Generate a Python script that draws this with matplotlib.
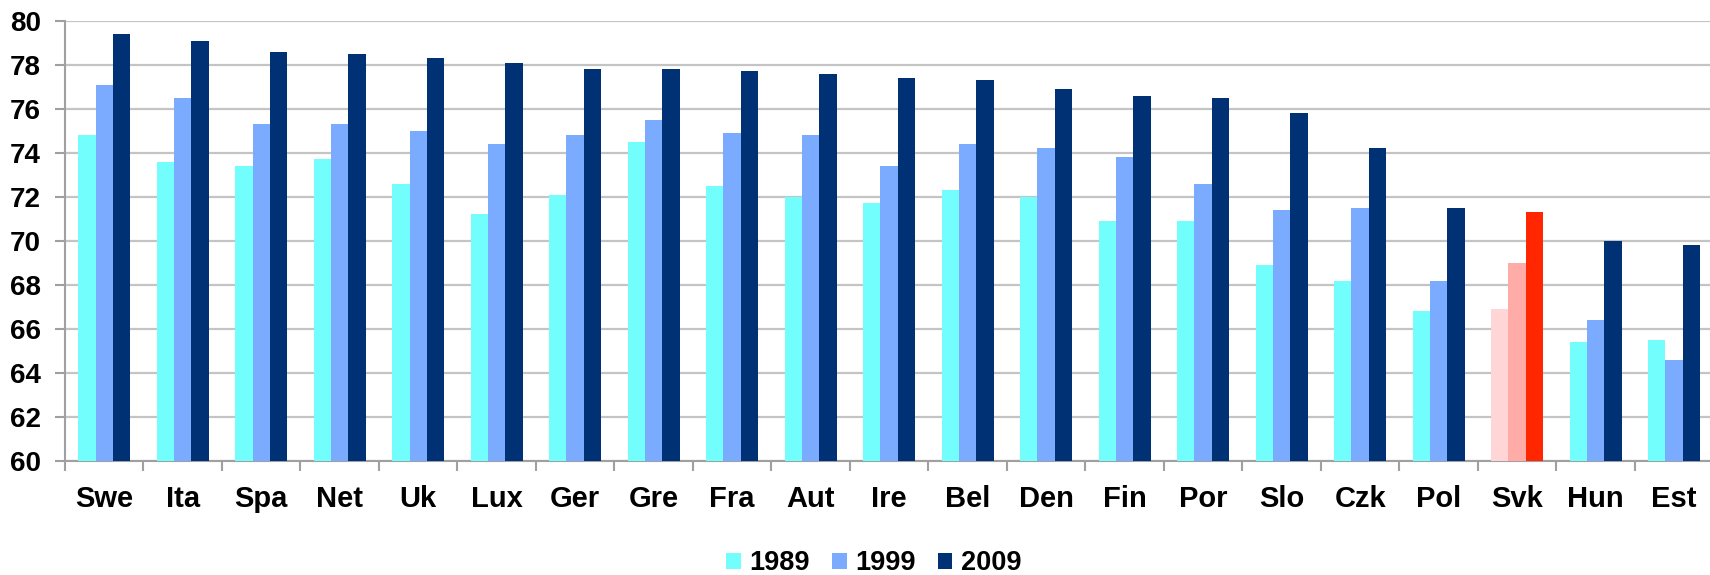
import numpy as np
import matplotlib
matplotlib.use('Agg')
import matplotlib.pyplot as plt

# life expectancy by country, three census years
countries = ['Swe', 'Ita', 'Spa', 'Net', 'Uk', 'Lux', 'Ger', 'Gre', 'Fra', 'Aut', 'Ire',
             'Bel', 'Den', 'Fin', 'Por', 'Slo', 'Czk', 'Pol', 'Svk', 'Hun', 'Est']
years = ['1989', '1999', '2009']
v1989 = [74.8, 73.6, 73.4, 73.7, 72.6, 71.2, 72.1, 74.5, 72.5, 72.0, 71.7,
         72.3, 72.0, 70.9, 70.9, 68.9, 68.2, 66.8, 66.9, 65.4, 65.5]
v1999 = [77.1, 76.5, 75.3, 75.3, 75.0, 74.4, 74.8, 75.5, 74.9, 74.8, 73.4,
         74.4, 74.2, 73.8, 72.6, 71.4, 71.5, 68.2, 69.0, 66.4, 64.6]
v2009 = [79.4, 79.1, 78.6, 78.5, 78.3, 78.1, 77.8, 77.8, 77.7, 77.6, 77.4,
         77.3, 76.9, 76.6, 76.5, 75.8, 74.2, 71.5, 71.3, 70.0, 69.8]
highlight = 'Svk'

base_colors = ['#73FEFE', '#7AABFE', '#003174']
hl_colors = ['#FFD5D5', '#FFABA8', '#FF2600']

FONT = 'Liberation Sans'

fig = plt.figure(figsize=(17.1, 5.75), dpi=100)
ax = fig.add_axes([0.038, 0.198, 0.964, 0.766])

x = np.arange(len(countries))
w = 0.222
handles = []
for i, (yr, vals) in enumerate(zip(years, [v1989, v1999, v2009])):
    cols = [hl_colors[i] if c == highlight else base_colors[i] for c in countries]
    b = ax.bar(x + (i - 1) * w, np.array(vals) - 60, w, bottom=60, color=cols,
               label=yr, zorder=3, linewidth=0)
    handles.append(b)

ax.set_ylim(60, 80)
ax.set_xlim(-0.5, len(countries) - 0.5)
ax.set_yticks(np.arange(60, 81, 2))
ax.grid(axis='y', color='#C4C4C4', linewidth=1.6, zorder=0)
ax.set_axisbelow(True)

ax.set_xticks(x)
ax.set_xticklabels(countries, fontsize=21, fontweight='bold', family=FONT)
ax.set_xticks(np.arange(-0.5, len(countries), 1), minor=True)
ax.tick_params(axis='x', which='major', length=0, pad=17)
ax.tick_params(axis='x', which='minor', length=7, width=1.5, color='#A0A0A0')
ax.tick_params(axis='y', length=7.5, width=1.5, color='#A0A0A0', pad=10)
for lab in ax.get_yticklabels():
    lab.set_family(FONT)
    lab.set_fontweight('bold')
    lab.set_fontsize(20)

for s in ['top', 'right']:
    ax.spines[s].set_visible(False)
for s in ['left', 'bottom']:
    ax.spines[s].set_color('#A0A0A0')
    ax.spines[s].set_linewidth(1.5)

fig.legend(handles=handles, loc='center', bbox_to_anchor=(0.511, 0.02), ncol=3,
           frameon=False, handlelength=0.55, handleheight=0.55, handletextpad=0.32,
           columnspacing=0.8, prop={'family': FONT, 'weight': 'bold', 'size': 19.5})

fig.savefig('out.png', dpi=100)
